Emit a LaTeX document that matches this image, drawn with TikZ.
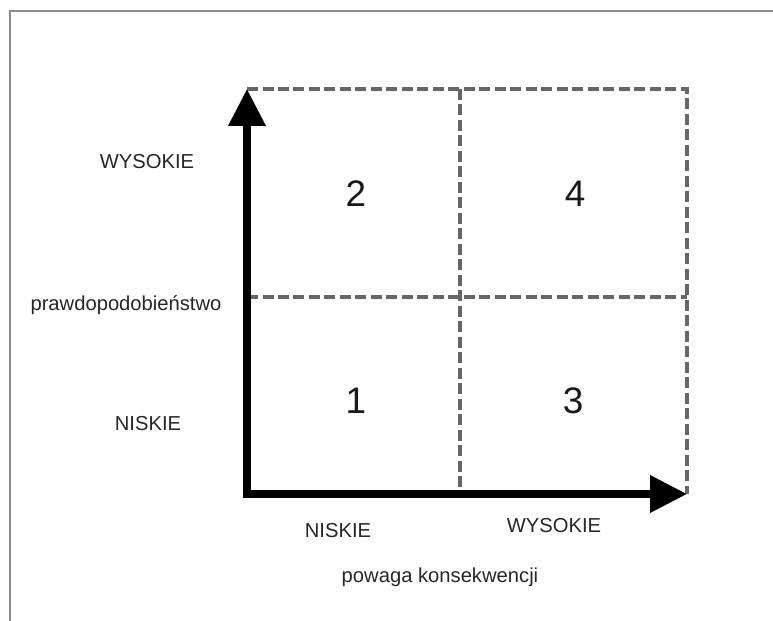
\documentclass[tikz,border=0pt]{standalone}
\usepackage{fontspec}
\setmainfont{Liberation Sans}
\usepackage{xcolor}
\usetikzlibrary{arrows.meta,positioning}

\begin{document}
\begin{tikzpicture}[
    x=0.02cm, y=-0.02cm,
    axlabel/.style={font=\fontsize{11.5}{13}\selectfont, text=black!85, inner sep=1pt},
    cellnum/.style={font=\fontsize{21}{24}\selectfont, text=black!90, inner sep=1pt},
    grid/.style={draw=black!60, line width=1.8pt, dash pattern=on 0.22cm off 0.09cm},
    axis/.style={{Triangle[length=0.74cm, width=0.72cm]}-{Triangle[length=0.74cm, width=0.72cm]}, line width=4pt, miter limit=4},
    frame/.style={draw=black!45, line width=1.2pt},
]
\useasboundingbox (0,0) rectangle (773,621);

% === FRAME ===
\coordinate (ftl) at (10,11);
\draw[frame] (10,621) -- (ftl) -- (773,11);

% === GRID COORDINATES ===
\coordinate (origin) at (247,494);
\coordinate (ytip)   at (247,89);
\coordinate (xtip)   at (687,494);
\coordinate (tr)     at (687,89);
\coordinate (midtop) at (460,89);
\coordinate (midbot) at (460,494);
\coordinate (midl)   at (247,297);
\coordinate (midr)   at (687,297);

% === DASHED CELLS ===
\draw[grid] (ytip) -- (tr) -- (xtip);
\draw[grid] (midtop) -- (midbot);
\draw[grid] (midl) -- (midr);

% === AXES ===
\draw[axis] (ytip) -- (origin) -- (xtip);

% === CELL NUMBERS ===
\node[cellnum] (c2) at (356,194) {2};
\node[cellnum] (c4) at (575,194) {4};
\node[cellnum] (c1) at (356,401) {1};
\node[cellnum] (c3) at (573,401) {3};

% === VERTICAL AXIS LABELS ===
\node[axlabel] (yhigh) at (147,162) {WYSOKIE};
\node[axlabel] (ytitle) at (126,305) {prawdopodobieństwo};
\node[axlabel] (ylow) at (148,424) {NISKIE};

% === HORIZONTAL AXIS LABELS ===
\node[axlabel] (xlow) at (338,531) {NISKIE};
\node[axlabel] (xhigh) at (554,526) {WYSOKIE};
\node[axlabel] (xtitle) at (440,577) {powaga konsekwencji};

\end{tikzpicture}
\end{document}
